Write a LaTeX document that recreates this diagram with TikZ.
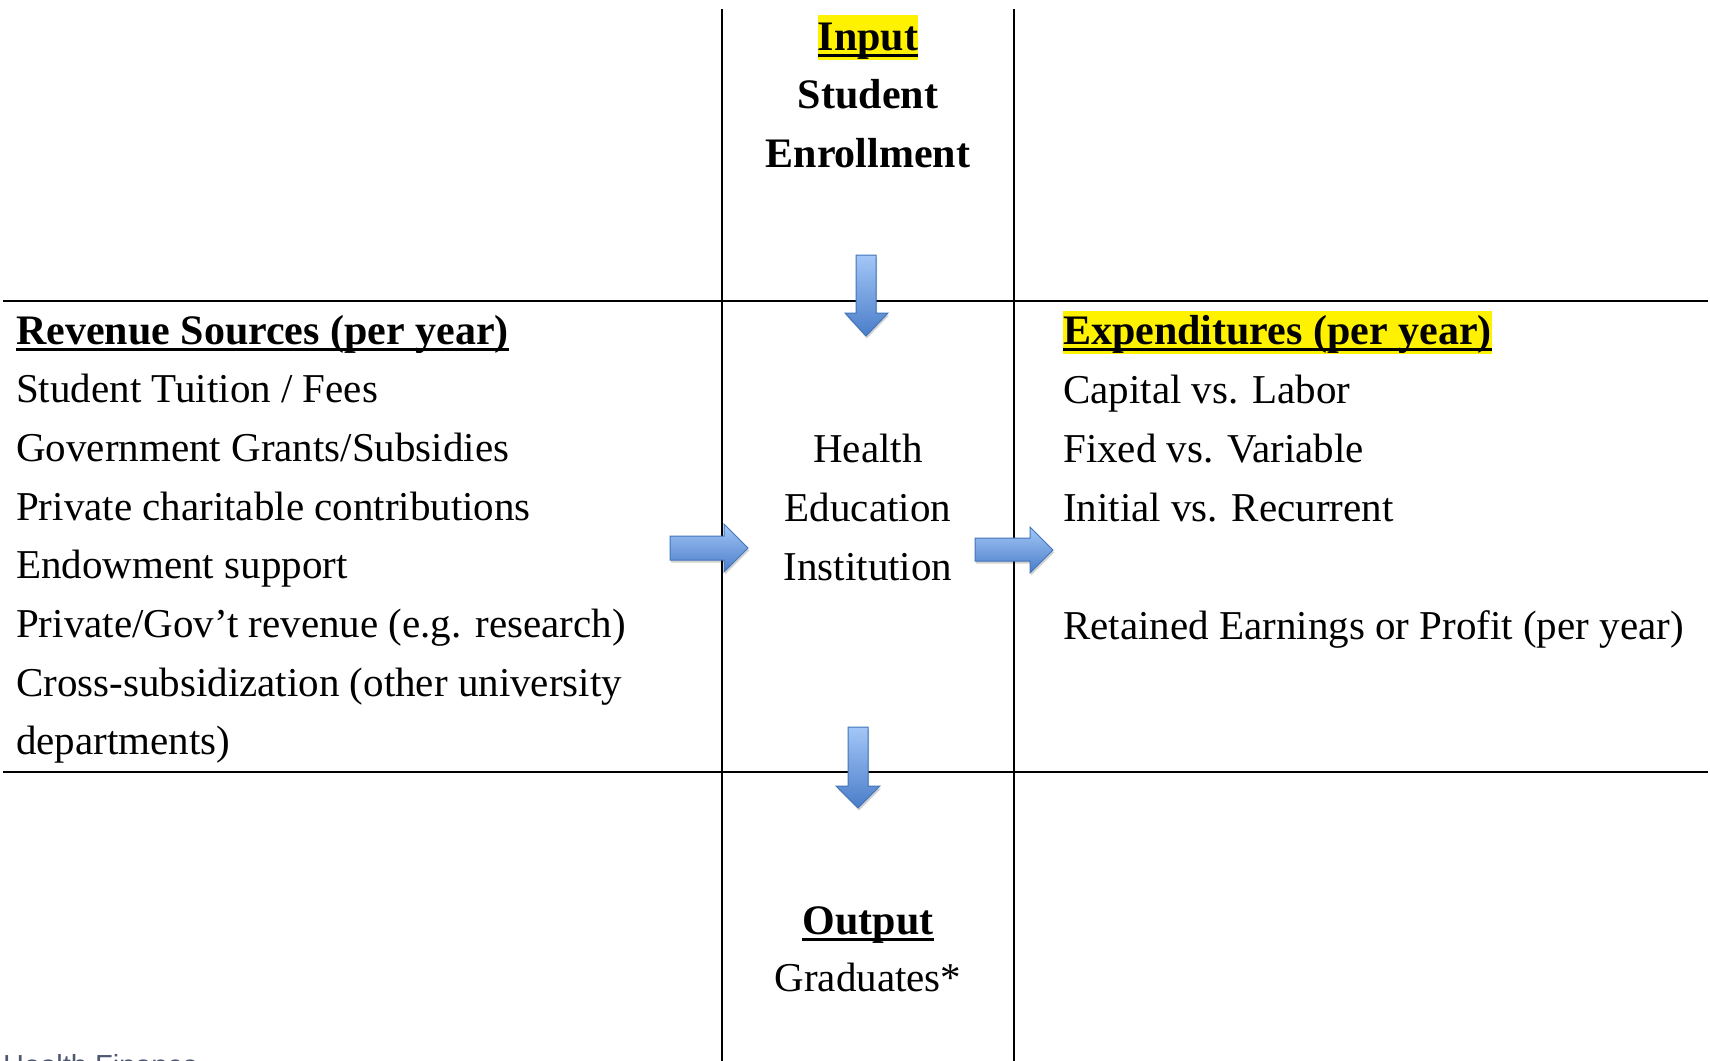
\documentclass[tikz,border=0pt]{standalone}
\usepackage{fontspec}
\setmainfont{Liberation Serif}
\newfontfamily\notefont{Liberation Sans}
\usetikzlibrary{backgrounds,shadows}

\definecolor{arrowtop}{HTML}{A3C7F7}
\definecolor{arrowbot}{HTML}{4A7DC9}
\definecolor{arrowedge}{HTML}{4275BA}
\definecolor{notegrey}{HTML}{4F5873}

\tikzset{
  rule/.style={line width=2.2pt, black},
  txt/.style={inner sep=0pt, font=\fontsize{41}{58}\selectfont},
  headtxt/.style={inner sep=0pt, font=\fontsize{42}{58}\selectfont\bfseries},
  uline/.style={line width=2.4pt},
  hilite/.style={fill=yellow, draw=none},
  blockarrow/.style={draw=arrowedge, line width=1pt, top color=arrowtop,
    bottom color=arrowbot,
    drop shadow={shadow xshift=1pt, shadow yshift=-2.5pt, opacity=.18, fill=black}},
  notetxt/.style={inner sep=0pt, text=notegrey, font=\notefont\fontsize{29}{34}\selectfont},
}

\begin{document}
\begin{tikzpicture}[x=1pt, y=-1pt]
  \clip (0,0) rectangle (1710,1060);

  % grid of rules
  \draw[rule] (722,9) -- (722,1062);
  \draw[rule] (1014,9) -- (1014,1062);
  \draw[rule] (3,301) -- (1708,301);
  \draw[rule] (3,772) -- (1708,772);

  % top cell: input
  \node[headtxt, anchor=base] (inp) at (868,50) {Input};
  \node[headtxt, anchor=base] (stud) at (868,108.5) {Student};
  \node[headtxt, anchor=base] (enrol) at (868,167) {Enrollment};

  % left cell: revenue
  \node[headtxt, anchor=base west] (revhead) at (16,344) {Revenue Sources (per year)};
  \foreach \t [count=\i] in {Student Tuition / Fees, Government Grants/Subsidies,
      Private charitable contributions, Endowment support,
      Private/Gov’t revenue (e.g. research),
      Cross-subsidization (other university, departments)}
    \node[txt, anchor=base west] (rev\i) at (16,{344+58.7*\i}) {\t};

  % centre cell: institution
  \node[txt, anchor=base] (inst1) at (868,462) {Health};
  \node[txt, anchor=base] (inst2) at (868,521) {Education};
  \node[txt, anchor=base] (inst3) at (868,580) {Institution};

  % right cell: expenditures
  \node[headtxt, anchor=base west] (exphead) at (1063,344) {Expenditures (per year)};
  \node[txt, anchor=base west] (exp1) at (1063,403) {Capital vs. Labor};
  \node[txt, anchor=base west] (exp2) at (1063,462) {Fixed vs. Variable};
  \node[txt, anchor=base west] (exp3) at (1063,521) {Initial vs. Recurrent};
  \node[txt, anchor=base west] (exp4) at (1063,639) {Retained Earnings or Profit (per year)};

  % bottom cell: output
  \node[headtxt, anchor=base] (outp) at (868,934) {Output};
  \node[txt, anchor=base] (grad) at (868,991) {Graduates*};

  % footer
  \node[notetxt, anchor=base west] (note) at (3,1075) {Health Finance};

  % underlines
  \foreach \n in {inp, revhead, exphead, outp}
    \draw[uline] ([yshift=-5.5pt]\n.base west) -- ([yshift=-5.5pt]\n.base east);

  % page and highlights behind the text
  \begin{scope}[on background layer]
    \fill[white] (0,0) rectangle (1710,1060);
    \fill[hilite] ([yshift=-10pt]inp.base west) rectangle ([yshift=35pt]inp.base east);
    \fill[hilite] ([yshift=-10pt]exphead.base west) rectangle ([yshift=33pt]exphead.base east);
  \end{scope}

  % block arrows
  \draw[blockarrow] (856,255) -- (876,255) -- (876,313) -- (888,313) -- (866,336)
    -- (845,313) -- (856,313) -- cycle;
  \draw[blockarrow] (848,727) -- (868,727) -- (868,786) -- (880,786) -- (858,808)
    -- (836,786) -- (848,786) -- cycle;
  \draw[blockarrow] (670,536) -- (724,536) -- (724,524) -- (748,548) -- (724,572)
    -- (724,560) -- (670,560) -- cycle;
  \draw[blockarrow] (975,538) -- (1030,538) -- (1030,527) -- (1053,550) -- (1030,573)
    -- (1030,561) -- (975,561) -- cycle;
\end{tikzpicture}
\end{document}
